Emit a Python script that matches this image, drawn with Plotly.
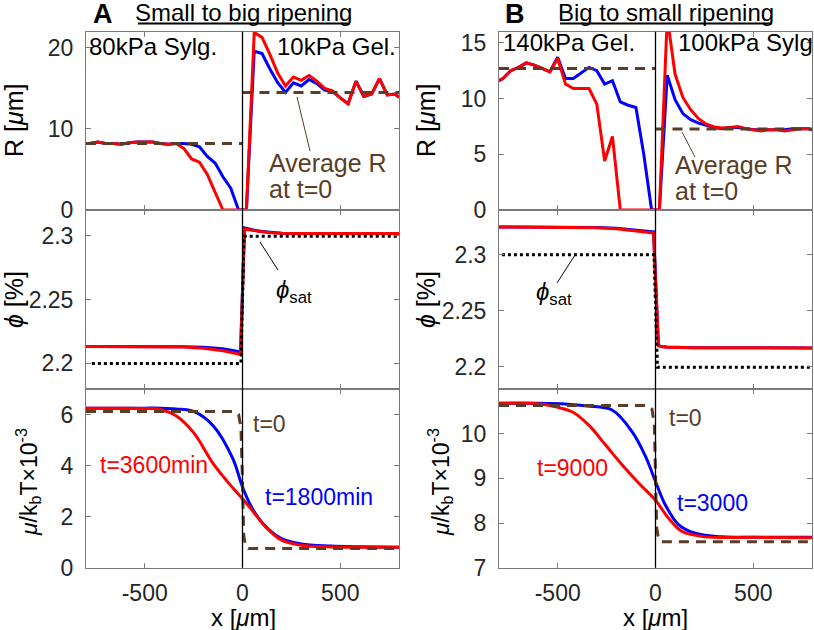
import plotly.graph_objects as go

# ---------------- data ----------------
R_x = [-800, -780, -740, -700, -660, -620, -580, -540, -500, -460, -420, -380, -340, -300, -260, -220, -180, -140, -100, -60, -20,
       20, 60, 100, 140, 180, 220, 260, 300, 340, 380, 420, 460, 500, 540, 580, 620, 660, 700, 740, 780, 800]

# panel A, radius
RA_blue = [8.2, 8.2, 8.4, 8.2, 8.2, 8.1, 8.3, 8.4, 8.4, 8.4, 8.2, 8.1, 8.2, 8.2, 8.1, 7.8, 6.6, 5.8, 4.1, 2.7, 0,
           0, 19.6, 19.3, 17.4, 15.7, 14.5, 15.7, 15.3, 16.1, 15.6, 14.8, 14.6, 13.8, 13.1, 15.9, 14.0, 14.3, 16.2, 14.2, 14.3, 13.9]
RA_red = [8.2, 8.2, 8.4, 8.2, 8.2, 8.1, 8.3, 8.4, 8.4, 8.4, 8.2, 8.1, 8.2, 7.6, 6.3, 5.9, 4.4, 2.3, 0, 0, 0,
          0, 21.9, 21.3, 19.2, 16.9, 15.3, 16.4, 16.0, 16.6, 15.9, 15.0, 14.7, 13.8, 13.1, 15.9, 14.0, 14.3, 16.2, 14.2, 14.3, 13.9]
RA_avg_left = 8.2
RA_avg_right = 14.5

# panel B, radius
RB_blue = [11.6, 11.8, 12.5, 12.8, 13.2, 13.0, 12.7, 12.4, 13.7, 11.8, 11.8, 12.3, 12.8, 12.5, 11.3, 11.6, 9.7, 9.4, 9.2, 5.0, 0,
           0, 12.1, 9.9, 8.65, 8.1, 7.8, 7.6, 7.4, 7.3, 7.4, 7.4, 7.3, 7.2, 7.2, 7.2, 7.2, 7.2, 7.3, 7.3, 7.3, 7.2]
RB_red = [11.6, 11.8, 12.5, 12.8, 13.2, 13.0, 12.7, 12.4, 13.6, 11.3, 10.9, 10.9, 10.9, 9.5, 4.4, 6.6, 0, 0, 0, 0, 0,
          0, 17.3, 12.2, 10.1, 9.0, 8.2, 7.7, 7.45, 7.35, 7.4, 7.5, 7.3, 7.2, 7.1, 7.2, 7.2, 7.1, 7.2, 7.3, 7.3, 7.2]
RB_avg_left = 12.7
RB_avg_right = 7.27

# panel A, volume fraction
phiA_x = [-800, -600, -400, -300, -200, -150, -100, -50, -10, 10, 30, 60, 100, 150, 200, 300, 500, 800]
phiA_blue = [2.2132, 2.2132, 2.2132, 2.2131, 2.2126, 2.2121, 2.2114, 2.2102, 2.2090,
             2.3060, 2.3052, 2.3042, 2.3032, 2.3024, 2.3019, 2.3016, 2.3016, 2.3016]
phiA_red = [2.2132, 2.2132, 2.2131, 2.2128, 2.2119, 2.2110, 2.2099, 2.2084, 2.2070,
            2.3052, 2.3046, 2.3038, 2.3029, 2.3022, 2.3018, 2.3016, 2.3016, 2.3016]
phisatA_x = [-770, -8, 8, 800]
phisatA = [2.2, 2.2, 2.2995, 2.2995]

# panel B, volume fraction
phiB_x = [-800, -600, -400, -300, -200, -100, -50, -10, 15, 30, 60, 100, 200, 400, 800]
phiB_blue = [2.3248, 2.3248, 2.3247, 2.3244, 2.3236, 2.3222, 2.3214, 2.3205,
             2.2190, 2.2180, 2.2175, 2.2172, 2.2169, 2.2168, 2.2167]
phiB_red = [2.3248, 2.3248, 2.3246, 2.3242, 2.3232, 2.3216, 2.3207, 2.3195,
            2.2185, 2.2177, 2.2173, 2.2171, 2.2169, 2.2168, 2.2167]
phisatB_x = [-785, -8, 10, 800]
phisatB = [2.3, 2.3, 2.1994, 2.1994]

# panel A, chemical potential
muA_x = [-800, -600, -500, -420, -340, -250, -150, -50, 0, 50, 120, 200, 300, 450, 600, 800]
muA_blue = [6.25, 6.25, 6.25, 6.25, 6.22, 6.12, 5.56, 4.28, 3.16, 2.32, 1.60, 1.14, 0.93, 0.85, 0.82, 0.80]
muA_red = [6.25, 6.25, 6.24, 6.20, 5.95, 5.29, 4.08, 3.13, 2.70, 2.24, 1.58, 1.08, 0.88, 0.81, 0.80, 0.80]
muA0_x = [-800, -45, -20, -8, 0, 6, 15, 30, 800]
muA0 = [6.12, 6.12, 6.0, 5.5, 3.4, 1.3, 0.85, 0.75, 0.75]

# panel B, chemical potential
muB_blue_x = [-800, -600, -450, -350, -222, -119, -51, 0, 51, 119, 204, 341, 500, 800]
muB_blue = [10.68, 10.68, 10.66, 10.62, 10.53, 10.04, 9.49, 8.93, 8.40, 7.96, 7.77, 7.69, 7.68, 7.68]
muB_red_x = [-800, -600, -511, -426, -341, -256, -170, -85, 0, 68, 136, 256, 500, 800]
muB_red = [10.68, 10.67, 10.60, 10.49, 10.19, 9.75, 9.30, 8.89, 8.51, 8.10, 7.81, 7.69, 7.68, 7.67]
muB0_x = [-800, -40, -18, -6, 0, 6, 15, 30, 800]
muB0 = [10.63, 10.63, 10.55, 10.2, 9.1, 7.9, 7.65, 7.58, 7.58]

x_ticks = [-500, 0, 500]
x_ticktext = ["-500", "0", "500"]

# ---------------- layout helpers ----------------
W, H = 814, 630
FONT = "Liberation Sans"
BROWN = "#5a3d26"
FRAME = "#7a7a7a"


def px(x):
    return x / W


def py(y):
    return 1 - y / H


XA = [px(86), px(399)]
XB = [px(499), px(812)]
ROWS = [[py(210), py(31.7)], [py(389), py(210)], [py(567.7), py(389)]]

fig = go.Figure()

# (suffix, xdomain, ydomain, yrange, yticks, yticktext, show x labels)
panels = [
    ("", XA, ROWS[0], [0, 22], [0, 10, 20], None, False),
    ("2", XB, ROWS[0], [0, 16], [0, 5, 10, 15], None, False),
    ("3", XA, ROWS[1], [2.18, 2.32], [2.2, 2.25, 2.3], ["2.2", "2.25", "2.3"], False),
    ("4", XB, ROWS[1], [2.18, 2.34], [2.2, 2.25, 2.3], ["2.2", "2.25", "2.3"], False),
    ("5", XA, ROWS[2], [0, 7], [0, 2, 4, 6], None, True),
    ("6", XB, ROWS[2], [7, 11], [7, 8, 9, 10], None, True),
]

axes = {}
for s, xd, yd, yr, yt, ytt, showx in panels:
    axes["xaxis" + s] = dict(domain=xd, range=[-800, 800], anchor="y" + s,
                             tickvals=x_ticks, ticktext=x_ticktext, showticklabels=showx,
                             ticks="inside", ticklen=5, tickcolor=FRAME,
                             showline=True, linecolor=FRAME, linewidth=1, mirror="ticks",
                             showgrid=False, zeroline=False, automargin=False,
                             ticklabelstandoff=5,
                             tickfont=dict(family=FONT, size=23, color="#262626"))
    ya = dict(domain=yd, range=yr, anchor="x" + s, tickvals=yt,
              ticks="inside", ticklen=5, tickcolor=FRAME,
              showline=True, linecolor=FRAME, linewidth=1, mirror="ticks",
              showgrid=False, zeroline=False, automargin=False,
              ticklabelstandoff=7,
              tickfont=dict(family=FONT, size=23, color="#262626"))
    if ytt:
        ya["ticktext"] = ytt
    axes["yaxis" + s] = ya
    # vertical line at the interface
    fig.add_shape(type="line", xref="x" + s, yref="y" + s + " domain",
                  x0=0, x1=0, y0=0, y1=1, line=dict(color="black", width=1.3))


def line(x, y, s, color, dash=None, width=3, shape="linear"):
    fig.add_trace(go.Scatter(x=x, y=y, mode="lines", xaxis="x" + s, yaxis="y" + s,
                             line=dict(color=color, width=width, dash=dash, shape=shape),
                             showlegend=False, hoverinfo="skip"))


DASH = "10px,7px"
DOT = "3px,3px"

# row 1
line(R_x, RA_blue, "", "blue")
line(R_x, RA_red, "", "red")
line([-800, 0], [RA_avg_left] * 2, "", BROWN, DASH)
line([0, 800], [RA_avg_right] * 2, "", BROWN, DASH)
line(R_x, RB_blue, "2", "blue")
line(R_x, RB_red, "2", "red")
line([-800, 0], [RB_avg_left] * 2, "2", BROWN, DASH)
line([0, 800], [RB_avg_right] * 2, "2", BROWN, DASH)

# row 2
line(phiA_x, phiA_blue, "3", "blue")
line(phiA_x, phiA_red, "3", "red")
line(phisatA_x, phisatA, "3", "black", DOT)
line(phiB_x, phiB_blue, "4", "blue")
line(phiB_x, phiB_red, "4", "red")
line(phisatB_x, phisatB, "4", "black", DOT)

# row 3
line(muA_x, muA_blue, "5", "blue", shape="spline")
line(muA_x, muA_red, "5", "red", shape="spline")
line(muA0_x, muA0, "5", BROWN, DASH)
line(muB_blue_x, muB_blue, "6", "blue", shape="spline")
line(muB_red_x, muB_red, "6", "red", shape="spline")
line(muB0_x, muB0, "6", BROWN, DASH)

# ---------------- text ----------------
ann = []


def text(t, x, y, size=24, color="black", anchor="left", angle=0):
    ann.append(dict(text=t, x=px(x), y=py(y), xref="paper", yref="paper",
                    xanchor=anchor, yanchor="middle", showarrow=False, textangle=angle,
                    font=dict(family=FONT, size=size, color=color)))


text("<b>A</b>", 103, 14, size=27, anchor="center")
text("Small to big ripening", 244, 12, anchor="center")
text("<b>B</b>", 515, 14, size=27, anchor="center")
text("Big to small ripening", 666, 12, anchor="center")

text("80kPa Sylg.", 87, 47)
text("10kPa Gel.", 398, 47, anchor="right")
text("140kPa Gel.", 501, 43)
text("100kPa Sylg.", 676, 43)

text("Average R", 267, 163, size=25, color=BROWN)
text("at t=0", 267, 189, size=25, color=BROWN)
text("Average R", 673, 165, size=25, color=BROWN)
text("at t=0", 673, 191, size=25, color=BROWN)

text("<i>ϕ</i><sub>sat</sub>", 274, 291)
text("<i>ϕ</i><sub>sat</sub>", 534, 293)

text("t=0", 251, 424, size=23, color=BROWN)
text("t=3600min", 98, 465, size=23, color="red")
text("t=1800min", 263, 497, size=23, color="blue")
text("t=0", 667, 418, size=23, color=BROWN)
text("t=9000", 535, 468, size=23, color="red")
text("t=3000", 675, 503, size=23, color="blue")

# axis titles
text("R [<i>μ</i>m]", 14, 121, size=25, anchor="center", angle=-90)
text("R [<i>μ</i>m]", 426, 121, size=25, anchor="center", angle=-90)
text("<i>ϕ</i> [%]", 14, 300, size=25, anchor="center", angle=-90)
text("<i>ϕ</i> [%]", 426, 300, size=25, anchor="center", angle=-90)
text("<i>μ</i>/k<sub>b</sub>T×10<sup>-3</sup>", 28, 482, size=23, anchor="center", angle=-90)
text("<i>μ</i>/k<sub>b</sub>T×10<sup>-3</sup>", 440, 482, size=23, anchor="center", angle=-90)
text("x [<i>μ</i>m]", 243, 617, size=24, anchor="center")
text("x [<i>μ</i>m]", 655, 617, size=24, anchor="center")

# title underlines and pointer lines
for x0, x1 in [(138, 350), (560, 772)]:
    fig.add_shape(type="line", xref="paper", yref="paper", x0=px(x0), x1=px(x1),
                  y0=py(23.5), y1=py(23.5), line=dict(color="black", width=2))
for x0, y0, x1, y1, c in [(297, 97, 310, 151, BROWN), (682, 132, 695, 157, BROWN),
                          (260, 242, 278, 270, "black"), (575, 255, 557, 283, "black")]:
    fig.add_shape(type="line", xref="paper", yref="paper", x0=px(x0), x1=px(x1),
                  y0=py(y0), y1=py(y1), line=dict(color=c, width=1))

fig.update_layout(width=W, height=H, margin=dict(l=0, r=0, t=0, b=0),
                  plot_bgcolor="white", paper_bgcolor="white",
                  font=dict(family=FONT, size=21, color="#262626"),
                  annotations=ann, **axes)

# drop the page's default body margin so the figure sits at the window corner
fig.write_html("out.html", config={"displayModeBar": False},
               post_script="document.body.style.margin='0';")
